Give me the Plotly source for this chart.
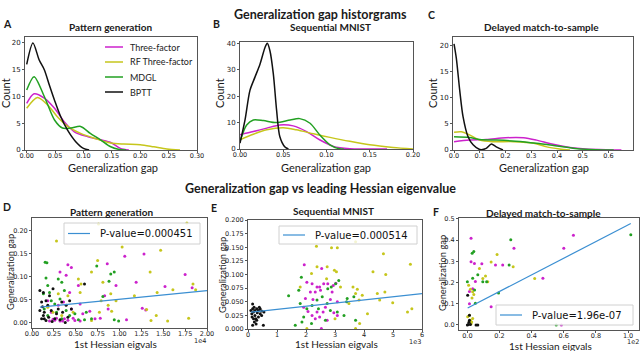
import plotly.graph_objects as go

W, H = 640, 351

METHODS = ["Three-factor", "RF Three-factor", "MDGL", "BPTT"]
COLORS = ["#cc22cc", "#c6c61c", "#22a022", "#111111"]
FIT_COLOR = "#3b8fd2"

# ---- top row: density curves (generalization gap, count) ----
A_THREE_X = [0, 0.013, 0.031, 0.049, 0.066, 0.084, 0.107, 0.13, 0.148, 0.165, 0.18]
A_THREE_Y = [8.7, 10.5, 9.7, 7.8, 5.3, 3.4, 2.5, 1.9, 1.4, 0.3, 0]
A_RF_X = [0, 0.019, 0.037, 0.054, 0.072, 0.095, 0.119, 0.148, 0.171, 0.2, 0.224, 0.247, 0.27]
A_RF_Y = [7.8, 9.8, 8.4, 6.2, 4.4, 3.1, 2.2, 1.3, 1.1, 1.0, 0.6, 0.2, 0]
A_MDGL_X = [0, 0.013, 0.031, 0.049, 0.063, 0.078, 0.095, 0.112, 0.13, 0.148, 0.163, 0.175]
A_MDGL_Y = [11.2, 13.7, 10, 5.6, 4.1, 4.1, 4.4, 3.1, 1.9, 0.6, 0.1, 0]
A_BPTT_X = [0, 0.011, 0.022, 0.031, 0.04, 0.049, 0.06, 0.072, 0.086, 0.1, 0.11]
A_BPTT_Y = [16, 20, 16.8, 15, 12.1, 9.3, 6.2, 3.7, 1.6, 0.3, 0]

B_THREE_X = [0, 0.0154, 0.031, 0.046, 0.0615, 0.077, 0.092, 0.108, 0.127, 0.146, 0.17]
B_THREE_Y = [5.4, 6.6, 7.9, 9.1, 8.75, 6.6, 3.5, 1.0, 0.1, 0, 0]
B_RF_X = [0, 0.0154, 0.031, 0.05, 0.065, 0.085, 0.104, 0.127, 0.15, 0.177, 0.2]
B_RF_Y = [3.5, 5.6, 7.25, 8, 7.25, 5.75, 4.4, 2.9, 1.6, 0.6, 0]
B_MDGL_X = [0, 0.0077, 0.0154, 0.027, 0.042, 0.058, 0.069, 0.081, 0.092, 0.104, 0.115, 0.12]
B_MDGL_Y = [2.9, 9.1, 11, 10.75, 10, 11, 11.5, 9.75, 5.4, 1.6, 0.1, 0]
B_BPTT_X = [0, 0.0058, 0.0115, 0.0173, 0.023, 0.029, 0.0315, 0.0346, 0.0385, 0.0423, 0.046, 0.052, 0.056]
B_BPTT_Y = [2.2, 11, 22.2, 27.2, 32, 38.5, 40, 37.2, 28.5, 14.7, 4.75, 0.75, 0]

C_THREE_X = [0, 0.06, 0.125, 0.2, 0.27, 0.32, 0.38, 0.45, 0.51, 0.59, 0.65]
C_THREE_Y = [1.6, 1.9, 2.0, 2.35, 2.35, 1.9, 1.15, 0.5, 0.2, 0.05, 0]
C_RF_X = [0, 0.028, 0.06, 0.1, 0.15, 0.23, 0.31, 0.36, 0.41, 0.45]
C_RF_Y = [3.4, 3.5, 2.9, 1.9, 1.6, 1.6, 1.3, 0.6, 0.2, 0]
C_MDGL_X = [0, 0.06, 0.1, 0.164, 0.24, 0.32, 0.4, 0.47, 0.55, 0.62]
C_MDGL_Y = [2.55, 2.4, 2.0, 1.9, 1.7, 1.3, 0.77, 0.3, 0.05, 0]
C_BPTT_X = [0, 0.009, 0.022, 0.035, 0.054, 0.074, 0.1, 0.125, 0.145, 0.164, 0.19]
C_BPTT_Y = [20.4, 17.6, 11.5, 6.4, 2.6, 1.0, 0.1, 0.3, 1.15, 0.6, 0]

# ---- bottom row: gap vs 1st Hessian eigenvalue (x in offset units) ----
D_THREE_X = [1.06, 1.28, 0.41, 0.45, 0.32, 0.39, 0.86, 0.96, 1.19, 1.75, 1.83, 1.52, 1.26, 1.30, 0.87,
             0.72, 0.78, 1.08, 0.53, 0.43, 0.55, 0.45, 0.36, 0.22, 0.26, 0.37, 0.49, 0.58, 0.66, 0.83,
             0.18, 0.30, 0.20, 0.24, 0.28, 0.32, 0.35, 0.41, 0.47, 0.55]
D_THREE_Y = [0.144, 0.149, 0.126, 0.12, 0.11, 0.103, 0.128, 0.081, 0.088, 0.105, 0.076, 0.079, 0.032, 0.028,
             0.03, 0.009, 0.01, 0.007, 0.081, 0.066, 0.041, 0.03, 0.045, 0.023, 0.006, 0.009, 0.005, 0.02,
             0.025, 0.059, 0.048, 0.038, 0.004, 0.008, 0.01, 0.004, 0.004, 0.006, 0.01, 0.004]
D_RF_X = [0.28, 1.03, 1.47, 1.35, 0.75, 0.68, 0.53, 0.56, 0.81, 1.84, 1.87, 1.61, 1.43, 1.17, 0.90, 0.96,
          0.79, 0.87, 1.31, 1.42, 1.79, 1.36, 1.55, 0.77, 0.68, 0.41, 0.30, 0.55, 0.18, 0.24, 0.34, 0.47,
          0.91, 1.77, 0.76]
D_RF_Y = [0.177, 0.164, 0.157, 0.11, 0.135, 0.11, 0.095, 0.084, 0.088, 0.084, 0.072, 0.072, 0.066, 0.059,
          0.063, 0.048, 0.048, 0.038, 0.029, 0.016, 0.01, 0.005, 0.004, 0.023, 0.005, 0.059, 0.063, 0.066,
          0.034, 0.023, 0.016, 0.023, 0.025, 0.216, 0.214]
D_MDGL_X = [0.15, 0.17, 0.16, 0.18, 0.30, 0.34, 0.74, 0.90, 0.94, 0.88, 0.81, 0.94, 0.99, 0.60, 0.68, 0.22,
            0.26, 0.20, 0.14, 0.39, 0.43, 0.34, 0.18, 0.28, 0.53, 0.49, 0.32, 0.62, 0.13, 0.37]
D_MDGL_Y = [0.131, 0.13, 0.097, 0.081, 0.095, 0.088, 0.123, 0.106, 0.11, 0.09, 0.057, 0.007, 0.004, 0.007,
            0.009, 0.048, 0.041, 0.066, 0.030, 0.027, 0.016, 0.009, 0.016, 0.023, 0.007, 0.02, 0.052, 0.023,
            0.063, 0.07]
D_BPTT_X = [0.09, 0.13, 0.11, 0.09, 0.13, 0.14, 0.16, 0.20, 0.24, 0.18, 0.22, 0.28, 0.32, 0.35, 0.39, 0.43,
            0.45, 0.60, 0.16, 0.11, 0.14, 0.26, 0.34, 0.41, 0.30, 0.19, 0.12, 0.23, 0.38]
D_BPTT_Y = [0.07, 0.066, 0.045, 0.027, 0.016, 0.009, 0.005, 0.059, 0.074, 0.038, 0.027, 0.02, 0.007, 0.023,
            0.038, 0.048, 0.03, 0.084, 0.048, 0.009, 0.023, 0.009, 0.045, 0.012, 0.03, 0.012, 0.035, 0.003,
            0.001]
D_FIT_X = [0.09, 2.0]
D_FIT_Y = [0.034, 0.070]

E_THREE_X = [1.94, 2.54, 2.03, 2.21, 2.38, 2.47, 2.61, 2.75, 3.03, 2.94, 2.15, 2.32, 2.5, 1.98, 2.24, 2.84,
             3.08, 2.07, 2.38, 2.59, 2.21, 2.47, 2.73, 3.08, 2.53, 2.96, 1.92, 2.67, 2.32, 2.9]
E_THREE_Y = [0.118, 0.111, 0.086, 0.083, 0.077, 0.077, 0.083, 0.083, 0.084, 0.08, 0.068, 0.068, 0.071,
             0.056, 0.054, 0.054, 0.05, 0.032, 0.031, 0.031, 0.025, 0.022, 0.016, 0.025, 0.001, 0.03, 0.04,
             0.04, 0.019, 0.068]
E_RF_X = [2.36, 2.88, 3.08, 3.71, 4.67, 5.6, 4.31, 4.75, 2.38, 2.19, 2.98, 3.05, 2.71, 3.62, 3.77, 3.71,
          3.83, 3.94, 4.46, 4.54, 4.72, 4.99, 5.5, 5.65, 3.48, 4.12, 3.71, 3.85, 3.0, 2.03, 1.8, 3.19, 2.73]
E_RF_Y = [0.152, 0.149, 0.149, 0.16, 0.138, 0.119, 0.105, 0.1, 0.114, 0.102, 0.108, 0.105, 0.092, 0.077,
          0.073, 0.065, 0.053, 0.062, 0.065, 0.053, 0.068, 0.048, 0.031, 0.037, 0.047, 0.028, 0.001, 0.01,
          0.019, 0.001, 0.077, 0.077, 0.114]
E_MDGL_X = [1.4, 1.84, 1.75, 1.8, 1.92, 1.63, 2.03, 2.21, 2.38, 2.56, 2.75, 2.87, 3.02, 3.13, 3.42, 3.4,
            2.84, 3.08, 3.31, 3.71, 3.65, 2.67, 2.19, 1.86, 2.43, 2.73]
E_MDGL_Y = [0.061, 0.095, 0.071, 0.047, 0.022, 0.007, 0.037, 0.043, 0.053, 0.059, 0.074, 0.077, 0.083,
            0.089, 0.056, 0.05, 0.034, 0.031, 0.025, 0.016, 0.059, 0.016, 0.01, 0.013, 0.037, 0.047]
E_BPTT_X = [0.16, 0.16, 0.19, 0.24, 0.3, 0.36, 0.42, 0.47, 0.55, 0.24, 0.19, 0.3, 0.22, 0.36, 0.42, 0.16,
            0.28, 0.53, 0.13, 0.32, 0.21, 0.39, 0.47, 0.14, 0.27, 0.1]
E_BPTT_Y = [0.046, 0.037, 0.031, 0.034, 0.037, 0.034, 0.037, 0.033, 0.031, 0.025, 0.019, 0.016, 0.013,
            0.022, 0.028, 0.007, 0.009, 0.007, 0.028, 0.03, 0.04, 0.04, 0.025, 0.022, 0.019, 0.034]
E_FIT_X = [0.1, 6.0]
E_FIT_Y = [0.031, 0.065]

F_THREE_X = [0.023, 0.66, 0.29, 0.6, 0.023, 0.044, 0.09, 0.175, 0.22, 0.47, 0.013, 0.013, 0.033, 0.05,
             0.148, 0.585]
F_THREE_Y = [0.408, 0.423, 0.361, 0.361, 0.298, 0.289, 0.288, 0.282, 0.282, 0.22, 0.157, 0.1, 0.17, 0.205,
             0.086, 0.0]
F_RF_X = [0.008, 0.019, 0.033, 0.04, 0.029, 0.075, 0.096, 0.113, 0.148, 0.127, 0.185, 0.285, 0.419, 0.013,
          0.002, 0.019, 0.023, 0.033, 0.027, 0.013]
F_RF_Y = [0.187, 0.168, 0.156, 0.143, 0.127, 0.266, 0.219, 0.23, 0.297, 0.203, 0.332, 0.274, 0.219, 0.046,
          0.038, 0.022, 0.006, 0.03, 0.014, 0.017]
F_MDGL_X = [0.03, 0.04, 0.0, 0.033, 0.065, 0.096, 0.12, 0.27, 0.26, 0.194, 0.05, 0.553, 1.017, 0.045]
F_MDGL_Y = [0.338, 0.346, 0.204, 0.22, 0.236, 0.204, 0.204, 0.401, 0.283, 0.15, 0.102, 0.0, 0.425, 0.165]
F_BPTT_X = [0.002, 0.013, 0.006, 0.019, 0.054, 0.065, 0.0, 0.013, 0.01]
F_BPTT_Y = [0.14, 0.046, 0.002, 0.002, 0.0, 0.0, 0.0, 0.022, 0.012]
F_FIT_X = [0.002, 1.017]
F_FIT_Y = [0.08, 0.478]

P_VALUES = ["0.000451", "0.000514", "1.96e-07"]

# pixel boxes of the six axes: left, right, top, bottom
BOXES = [(25, 197, 37, 150), (240, 413, 42, 149), (453, 633, 37, 150),
         (32, 207, 218, 328), (248, 422, 220, 329), (459, 639, 218, 330)]
# P-value legend boxes (left, right, top, bottom) for D, E, F
FIT_BOXES = [(64, 200, 223, 244), (279, 417, 226, 244), (496, 633, 305, 325)]


def fx(p):
    return p / W


def fy(p):
    return 1 - p / H


fig = go.Figure()

curves = [
    [(A_THREE_X, A_THREE_Y), (A_RF_X, A_RF_Y), (A_MDGL_X, A_MDGL_Y), (A_BPTT_X, A_BPTT_Y)],
    [(B_THREE_X, B_THREE_Y), (B_RF_X, B_RF_Y), (B_MDGL_X, B_MDGL_Y), (B_BPTT_X, B_BPTT_Y)],
    [(C_THREE_X, C_THREE_Y), (C_RF_X, C_RF_Y), (C_MDGL_X, C_MDGL_Y), (C_BPTT_X, C_BPTT_Y)],
]
for i, panel in enumerate(curves):
    ax = "" if i == 0 else str(i + 1)
    for j, (xs, ys) in enumerate(panel):
        fig.add_trace(go.Scatter(
            x=xs, y=ys, mode="lines", name=METHODS[j],
            line=dict(color=COLORS[j], width=1.5, shape="spline", smoothing=0.8),
            xaxis="x" + ax, yaxis="y" + ax, showlegend=False))

scatters = [
    [(D_THREE_X, D_THREE_Y), (D_RF_X, D_RF_Y), (D_MDGL_X, D_MDGL_Y), (D_BPTT_X, D_BPTT_Y)],
    [(E_THREE_X, E_THREE_Y), (E_RF_X, E_RF_Y), (E_MDGL_X, E_MDGL_Y), (E_BPTT_X, E_BPTT_Y)],
    [(F_THREE_X, F_THREE_Y), (F_RF_X, F_RF_Y), (F_MDGL_X, F_MDGL_Y), (F_BPTT_X, F_BPTT_Y)],
]
fits = [(D_FIT_X, D_FIT_Y), (E_FIT_X, E_FIT_Y), (F_FIT_X, F_FIT_Y)]
for i, panel in enumerate(scatters):
    ax = str(i + 4)
    for j, (xs, ys) in enumerate(panel):
        fig.add_trace(go.Scatter(
            x=xs, y=ys, mode="markers", marker=dict(size=3, color=COLORS[j]),
            xaxis="x" + ax, yaxis="y" + ax, showlegend=False))
    fig.add_trace(go.Scatter(
        x=fits[i][0], y=fits[i][1], mode="lines", name="P-value=" + P_VALUES[i],
        line=dict(color=FIT_COLOR, width=1.2),
        xaxis="x" + ax, yaxis="y" + ax, showlegend=False))

# axis settings: range, dtick, tick format
X_AX = [([-0.003, 0.30], 0.05, ".2f"), ([0, 0.20], 0.05, ".2f"), ([-0.004, 0.695], 0.1, ".1f"),
        ([0, 2.0], 0.25, ".2f"), ([0, 6.0], 1, "d"), ([-0.052, 1.068], 0.2, ".1f")]
Y_AX = [([0, 21.1], 5, "d"), ([0, 40.5], 10, "d"), ([0, 21.7], 5, "d"),
        ([-0.011, 0.227], 0.05, ".2f"), ([0, 0.2], 0.025, ".3f"), ([-0.024, 0.504], 0.1, ".1f")]

common = dict(showline=True, mirror=True, linecolor="#555555", linewidth=1, showgrid=False,
              zeroline=False, ticks="outside", ticklen=2, tickcolor="#555555", tickwidth=1,
              automargin=False)
layout_axes = {}
for i, (l, r, t, b) in enumerate(BOXES):
    n = "" if i == 0 else str(i + 1)
    tsize = 7 if i < 3 else 6.5
    layout_axes["xaxis" + n] = dict(
        domain=[fx(l), fx(r)], range=X_AX[i][0], dtick=X_AX[i][1], tick0=0, tickformat=X_AX[i][2],
        anchor="y" + n, ticklabelstandoff=-3,
        tickfont=dict(family="DejaVu Sans", size=6.5, color="#222"), **common)
    layout_axes["yaxis" + n] = dict(
        domain=[fy(b), fy(t)], range=Y_AX[i][0], dtick=Y_AX[i][1], tick0=0, tickformat=Y_AX[i][2],
        anchor="x" + n, tickfont=dict(family="DejaVu Sans", size=tsize, color="#222"), **common)

ann = []
shapes = []


def text(x, y, s, size, bold=False, family="Lato", angle=0, color="#1a1a1a", xanchor="center"):
    ann.append(dict(x=fx(x), y=fy(y), xref="paper", yref="paper", text="<b>%s</b>" % s if bold else s,
                    showarrow=False, textangle=angle, xanchor=xanchor, yanchor="middle",
                    font=dict(family=family, size=size, color=color)))


text(320, 15, "Generalization gap historgrams", 12.5, bold=True)
text(320, 188, "Generalization gap vs leading Hessian eigenvalue", 12.5, bold=True)

for (x, y, s) in [(111, 27, "Pattern generation"), (330, 27, "Sequential MNIST"),
                  (541, 27, "Delayed match-to-sample"), (112, 212, "Pattern generation"),
                  (333, 211, "Sequential MNIST"), (543, 213, "Delayed match-to-sample")]:
    text(x, y, s, 10, bold=True)

for (x, y, s) in [(7, 24, "A"), (216, 24, "B"), (431, 15, "C"), (7, 207, "D"), (214, 208, "E"),
                  (436, 212, "F")]:
    text(x, y, s, 10.5, bold=True)

for x in [113, 326, 544]:
    text(x, 167, "Generalization gap", 11)
for (x, y) in [(115, 344), (336, 344), (550, 345.5)]:
    text(x, y, "1st Hessian eigvals", 10)
for x in [6, 220, 433]:
    text(x, 93, "Count", 11, angle=-90)
for (x, y) in [(10, 272), (222, 275), (442, 273)]:
    text(x, y, "Generalization gap", 9.3, angle=-90)
for (x, y, s) in [(200, 341, "1e4"), (415, 342, "1e3"), (633, 342, "1e2")]:
    text(x, y, s, 6.5, family="DejaVu Sans")

# method legend in panel A (compact rows like the original)
for j, name in enumerate(METHODS):
    row = 47 + 15 * j
    shapes.append(dict(type="line", xref="paper", yref="paper", x0=fx(105), x1=fx(123),
                       y0=fy(row), y1=fy(row), line=dict(color=COLORS[j], width=1.5)))
    text(128, row, name, 9, color="#222", xanchor="left")

# P-value legends in panels D, E, F
for (l, r, t, b), p in zip(FIT_BOXES, P_VALUES):
    mid = (t + b) / 2
    shapes.append(dict(type="rect", xref="paper", yref="paper", x0=fx(l), x1=fx(r), y0=fy(b), y1=fy(t),
                       fillcolor="rgba(255,255,255,0.8)", line=dict(color="#d0d0d0", width=1),
                       layer="above"))
    shapes.append(dict(type="line", xref="paper", yref="paper", x0=fx(l + 4), x1=fx(l + 26),
                       y0=fy(mid), y1=fy(mid), line=dict(color=FIT_COLOR, width=1.2), layer="above"))
    text(l + 34, mid, "P-value=" + p, 10, family="DejaVu Sans", color="#111", xanchor="left")

fig.update_layout(
    width=W, height=H, margin=dict(l=0, r=0, t=0, b=0),
    paper_bgcolor="white", plot_bgcolor="white", showlegend=False,
    annotations=ann, shapes=shapes,
    **layout_axes,
)

fig.write_html("out.html", config={"displayModeBar": False},
               post_script="document.body.style.margin='0';")
